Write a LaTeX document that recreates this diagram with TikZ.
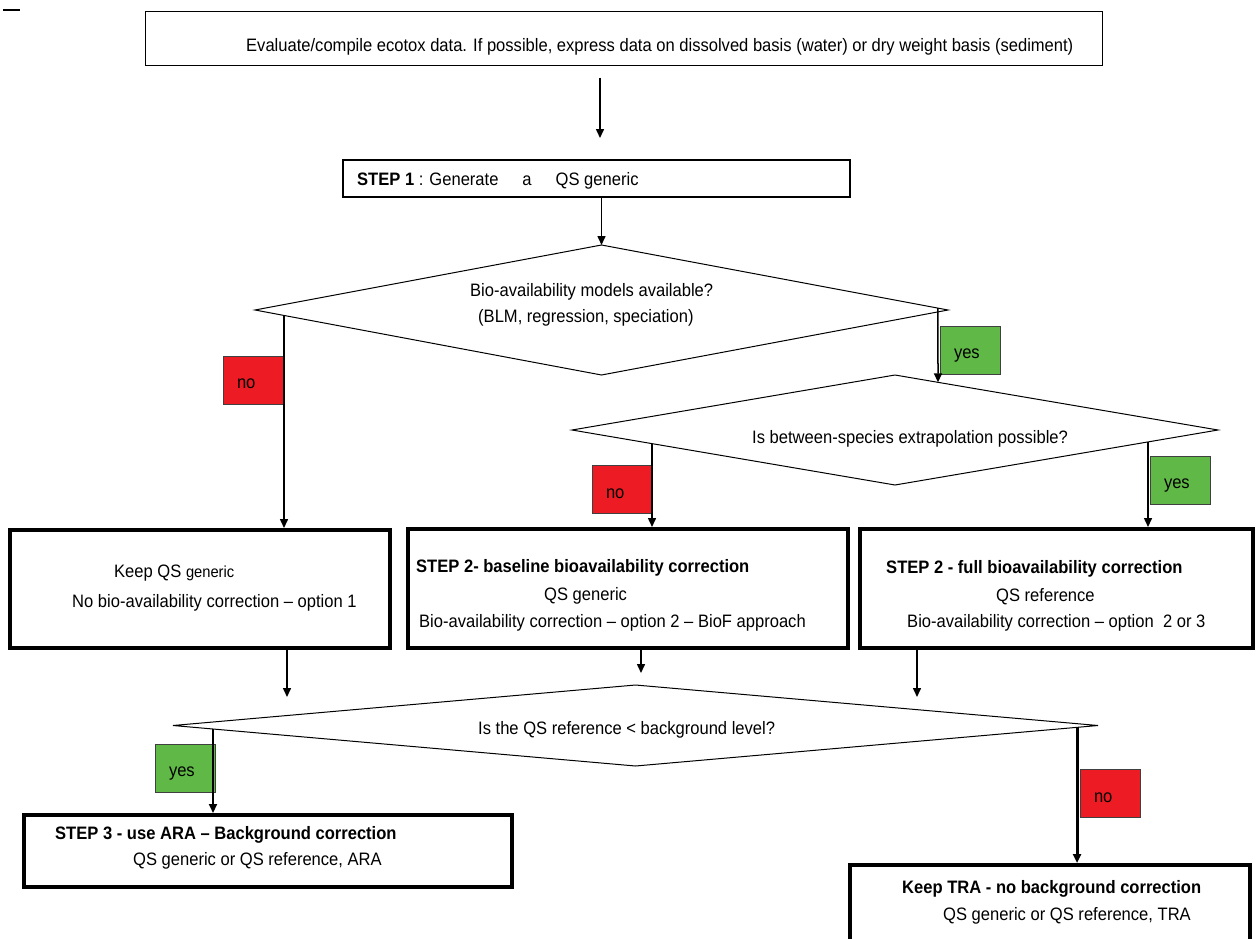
\documentclass[tikz,border=0pt]{standalone}
\usepackage{fontspec}
\setmainfont{Liberation Sans}[FakeStretch=0.92]
\usetikzlibrary{shapes.geometric,calc,arrows.meta}

\definecolor{flagred}{RGB}{237,28,36}
\definecolor{flaggreen}{RGB}{96,185,70}
\newcommand\fsz[1]{\fontsize{#1}{#1}\selectfont}

\tikzset{
  plainbox/.style={draw, line width=1pt, inner sep=0pt},
  stepbox/.style={draw, line width=2pt, inner sep=0pt},
  bigbox/.style={draw, line width=4pt, inner sep=0pt},
  decision/.style={diamond, draw, line width=1pt, inner sep=0pt, outer sep=0pt},
  txt/.style={inner sep=0pt, font=\fsz{18}},
  flag/.style={draw=black!75, line width=1pt, minimum width=60, minimum height=48,
               text width=32, inner xsep=14pt, align=left, font=\fsz{18},
               text height=17.5pt, text depth=0pt},
  noflag/.style={flag, fill=flagred},
  yesflag/.style={flag, fill=flaggreen},
  arr/.style={line width=1.5pt, -{Triangle[length=9pt,width=8pt]}},
}

\begin{document}
\begin{tikzpicture}[x=1pt,y=-1pt]
\useasboundingbox (0,0) rectangle (1259,938);

% stray mark in the corner
\draw[line width=1.5pt] (3,10) -- (20,10);

% input box
\node[plainbox, minimum width=957, minimum height=54] (eval) at (623.5,38) {};
\node[txt, anchor=base west] (evalt) at (246,51)
  {Evaluate/compile ecotox data. If possible, express data on dissolved basis (water) or dry weight basis (sediment)};

% step 1
\node[stepbox, minimum width=507, minimum height=37] (s1) at (596.5,178.5) {};
\node[txt, anchor=base west] (s1t) at (357,185)
  {\textbf{STEP 1} :\hspace{6pt}Generate\hspace{24pt}a\hspace{24pt}QS generic};

% decisions
\node[decision, minimum width=693, minimum height=130] (d1) at (601.5,310) {};
\node[txt, anchor=base west] (d1a) at (470,296) {Bio-availability models available?};
\node[txt, anchor=base west] (d1b) at (478,322) {(BLM, regression, speciation)};

\node[decision, minimum width=646, minimum height=110] (d2) at (895,430) {};
\node[txt, anchor=base west] (d2a) at (752,443) {Is between-species extrapolation possible?};

\node[decision, minimum width=925, minimum height=81] (d3) at (635.5,725.5) {};
\node[txt, anchor=base west] (d3a) at (478,734) {Is the QS reference < background level?};

% outcome boxes, second row
\node[bigbox, minimum width=380, minimum height=118] (ka) at (200,589) {};
\node[txt, anchor=base west] (ka1) at (114,577) {Keep QS {\fsz{16}generic}};
\node[txt, anchor=base west] (ka2) at (72,607) {No bio-availability correction – option 1};

\node[bigbox, minimum width=440, minimum height=119] (kb) at (628,588.5) {};
\node[txt, anchor=base west] (kb1) at (416,572) {\textbf{STEP 2- baseline bioavailability correction}};
\node[txt, anchor=base west] (kb2) at (544,600) {QS generic};
\node[txt, anchor=base west] (kb3) at (419,627) {Bio-availability correction – option 2 – BioF approach};

\node[bigbox, minimum width=393, minimum height=119] (kc) at (1056.5,588.5) {};
\node[txt, anchor=base west] (kc1) at (886,573) {\textbf{STEP 2 - full bioavailability correction}};
\node[txt, anchor=base west] (kc2) at (996,601) {QS reference};
\node[txt, anchor=base west] (kc3) at (907,627) {Bio-availability correction – option\ \ 2 or 3};

% outcome boxes, bottom row
\node[bigbox, minimum width=488, minimum height=72] (kd) at (268,851) {};
\node[txt, anchor=base west] (kd1) at (55,839) {\textbf{STEP 3 - use ARA – Background correction}};
\node[txt, anchor=base west] (kd2) at (133,865) {QS generic or QS reference, ARA};

\node[bigbox, minimum width=400, minimum height=90] (ke) at (1050,910) {};
\node[txt, anchor=base west] (ke1) at (902,893) {\textbf{Keep TRA - no background correction}};
\node[txt, anchor=base west] (ke2) at (943,920) {QS generic or QS reference, TRA};

% yes / no flags
\node[noflag]  (n1) at (253,380) {no};
\node[yesflag] (y1) at (970,350) {yes};
\node[noflag]  (n2) at (622,489.5) {no};
\node[yesflag] (y2) at (1180,480) {yes};
\node[yesflag] (y3) at (185,768) {yes};
\node[noflag]  (n3) at (1110,793.5) {no};

% free arrow ends
\coordinate (ev) at (600,138);
\coordinate (ta) at (287,697);
\coordinate (tb) at (641,673);
\coordinate (tc) at (917,697);

% connectors
\draw[arr] ($(ev |- eval.south)+(0,12)$) -- (ev);
\draw[arr] (s1.south -| d1.north) -- (d1.north);

\draw[arr] ($(d1.west)!0.0837!(d1.south)$) coordinate (p1) -- (p1 |- ka.north);
\draw[arr] ($(d1.north)!0.9711!(d1.east)$) -- ($(d2.north)!0.1331!(d2.east)$);

\draw[arr] ($(d2.west)!0.2477!(d2.south)$) coordinate (p2) -- (p2 |- kb.north);
\draw[arr] ($(d2.east)!0.2167!(d2.south)$) coordinate (p3) -- (p3 |- kc.north);

\draw[arr] (ta |- ka.south) -- (ta);
\draw[arr] (tb |- kb.south) -- (tb);
\draw[arr] (tc |- kc.south) -- (tc);

\draw[arr, line width=2pt] ($(d3.west)!0.0865!(d3.south)$) coordinate (p4) -- (p4 |- kd.north);
\draw[arr, line width=3pt] ($(d3.east)!0.0454!(d3.south)$) coordinate (p5) -- (p5 |- ke.north);
\end{tikzpicture}
\end{document}
